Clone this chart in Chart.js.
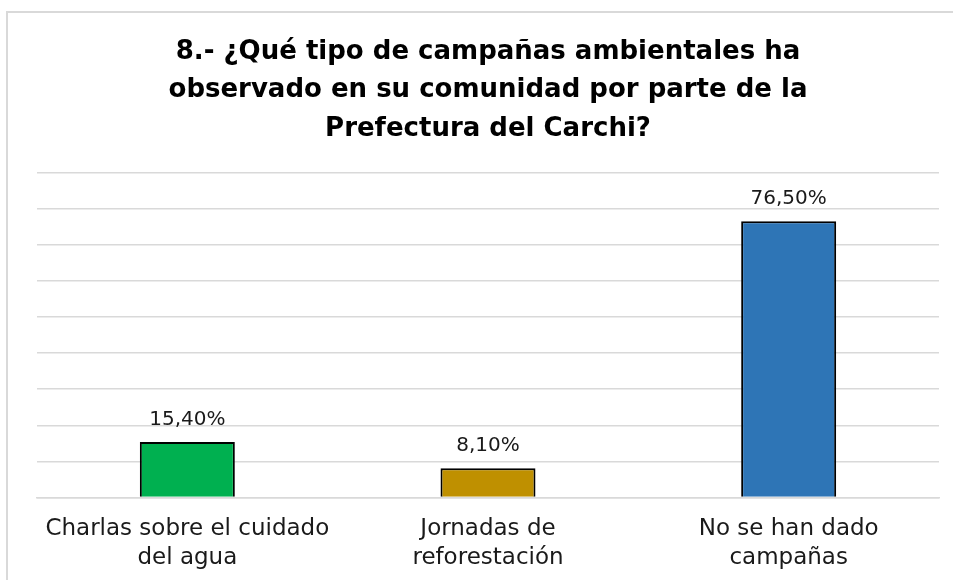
<!DOCTYPE html>
<html>
<head>
<meta charset="utf-8">
<script src="https://cdn.jsdelivr.net/npm/chart.js@4.4.1/dist/chart.umd.min.js"></script>
<style>
    html, body { margin: 0; padding: 0; background: #fff; overflow: hidden; }
    #frame {
        position: absolute; left: 6px; top: 11px; width: 960px; height: 600px;
        border-left: 2px solid #d9d9d9; border-top: 2px solid #d9d9d9;
    }
    #wrap { position: absolute; left: 0; top: 0; width: 953px; height: 580px; overflow: hidden; }
</style>
</head>
<body>
<div id="frame"></div>
<div id="wrap"><canvas id="campanasChart" width="953" height="590"></canvas></div>
<script>
// datos
const categorias = [
    ['Charlas sobre el cuidado', 'del agua'],
    ['Jornadas de', 'reforestación'],
    ['No se han dado', 'campañas']
];
const porcentajes = [15.4, 8.1, 76.5];
const colores = ['#00b050', '#bf9000', '#2e75b6'];
const tituloLineas = [
    '8.- ¿Qué tipo de campañas ambientales ha',
    'observado en su comunidad por parte de la',
    'Prefectura del Carchi?'
];

const fuente = "'DejaVu Sans', sans-serif";

// etiquetas de valor encima de cada barra
const etiquetasValor = {
    id: 'etiquetasValor',
    afterDatasetsDraw(chart) {
        const ctx = chart.ctx;
        const meta = chart.getDatasetMeta(0);
        ctx.save();
        ctx.font = '20px ' + fuente;
        ctx.fillStyle = '#1a1a1a';
        ctx.textAlign = 'center';
        ctx.textBaseline = 'alphabetic';
        meta.data.forEach((bar, i) => {
            const txt = porcentajes[i].toFixed(2).replace('.', ',') + '%';
            ctx.fillText(txt, bar.x, bar.y - 17);
        });
        ctx.restore();
    }
};

const ctx = document.getElementById('campanasChart').getContext('2d');
const chart = new Chart(ctx, {
    type: 'bar',
    data: {
        labels: categorias,
        datasets: [{
            data: porcentajes,
            backgroundColor: colores,
            borderColor: '#000',
            borderWidth: 2,
            barPercentage: 0.316,
            categoryPercentage: 1
        }]
    },
    options: {
        responsive: false,
        animation: false,
        layout: { padding: { left: 37, right: 14, top: 0, bottom: 0 } },
        plugins: {
            legend: { display: false },
            tooltip: { enabled: false },
            title: {
                display: true,
                text: tituloLineas,
                color: '#000',
                font: { family: fuente, size: 26, weight: 'bold', lineHeight: 1.48 },
                padding: { top: 33, bottom: 24 }
            }
        },
        scales: {
            y: {
                min: 0,
                max: 90,
                ticks: { display: false, stepSize: 10 },
                grid: { color: '#d9d9d9', lineWidth: 1.5, drawTicks: false },
                border: { display: false }
            },
            x: {
                grid: { display: false, drawTicks: false },
                border: { color: '#d9d9d9', width: 1.5 },
                ticks: {
                    color: '#1a1a1a',
                    font: { family: fuente, size: 23, lineHeight: 1.27 },
                    padding: 17,
                    maxRotation: 0,
                    autoSkip: false
                }
            }
        }
    },
    plugins: [etiquetasValor]
});
</script>
</body>
</html>
